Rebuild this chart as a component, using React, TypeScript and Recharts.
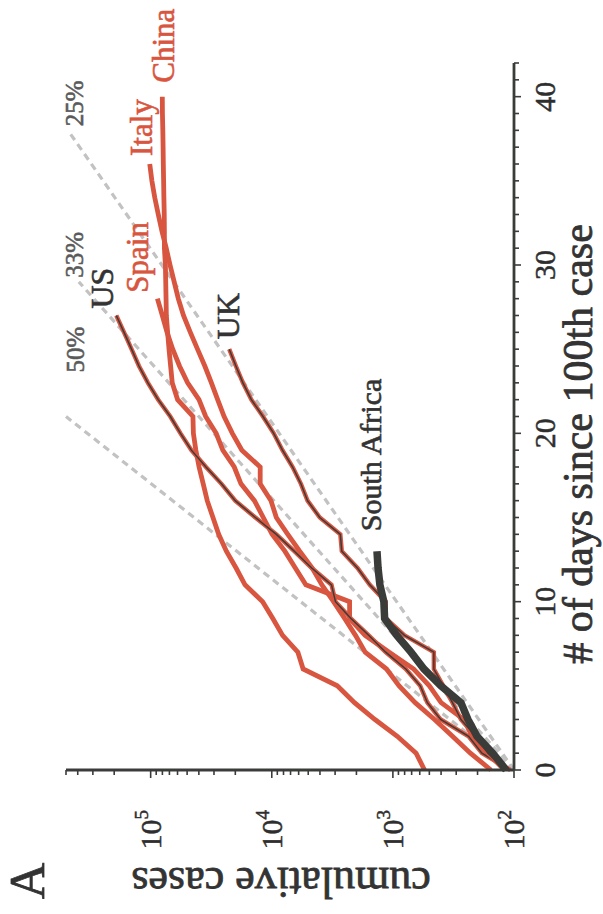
import React from "react";
import { LineChart, Line, XAxis, YAxis } from "recharts";

// Cumulative COVID-19 cases by day since the 100th case (panel A, printed rotated)

const RED = "#d8553f";
const DARK = "#3a3c3a";
const GREY = "#c2c2c2";
const FONT = "'Liberation Serif', 'Times New Roman', serif";

const china = [
  548, 643, 920, 1406, 2075, 2877, 5509, 6087, 8141, 9802, 11891, 16630, 19716, 23707,
  27440, 30587, 34110, 36814, 39829, 42354, 44386, 44759, 59895, 66358, 68413, 70513,
  72434, 74211, 74619, 75077, 75550, 77001, 77022, 77241, 77754, 78166, 78600, 78928,
  79356, 79932, 80136,
];
const italy = [
  155, 229, 322, 453, 655, 888, 1128, 1694, 2036, 2502, 3089, 3858, 4636, 5883, 7375,
  9172, 10149, 12462, 12462, 17660, 21157, 24747, 27980, 31506, 35713, 41035, 47021,
  53578, 59138, 63927, 69176, 74386, 80589, 86498, 92472, 97689, 101739,
];
const spain = [
  120, 165, 222, 259, 400, 500, 673, 1073, 1695, 2277, 2277, 5232, 6391, 7798, 9942,
  11748, 13910, 17963, 20410, 25374, 28768, 35136, 39885, 49515, 57786, 65719, 73235,
  80110, 87956,
];
const us = [
  107, 184, 237, 403, 519, 594, 782, 1147, 1586, 2219, 2978, 3212, 4679, 6512, 9169,
  13663, 20030, 26025, 34944, 46096, 56714, 68841, 86612, 105293, 124900, 143779,
  165861, 192177,
];
const uk = [
  116, 164, 207, 274, 322, 384, 459, 459, 802, 1144, 1145, 1551, 1960, 2642, 2716, 4014,
  5067, 5745, 6726, 8164, 9640, 11812, 14745, 17312, 19780, 22453,
];
const southAfrica = [116, 150, 202, 240, 274, 402, 554, 709, 927, 1170, 1187, 1280, 1326, 1353];

// daily growth reference lines (start and end points)
const ref50Days = [0, 21];
const ref50Cases = [100, 500000];
const ref33Days = [0, 29];
const ref33Cases = [100, 392000];
const ref25Days = [0, 38];
const ref25Cases = [100, 481800];

const dayTicks = Array.from({ length: 43 }, (_, i) => i);
const decades = [100, 1000, 10000, 100000];
const caseTicks = decades
  .flatMap((d) => [1, 2, 3, 4, 5, 6, 7, 8, 9].map((m) => m * d))
  .filter((v) => v <= 500000);

const toPoints = (arr: number[]) => arr.map((cases, day) => ({ day, cases }));
const refPoints = (days: number[], cases: number[]) =>
  days.map((day, i) => ({ day, cases: cases[i] }));

const heavy = (color: string, w = 0.6) => ({ fill: color, stroke: color, strokeWidth: w });

const DayTick = (props: any) => {
  const { x, y, payload } = props;
  const major = payload.value % 10 === 0;
  return (
    <g>
      <line x1={x} x2={x} y1={y} y2={y + (major ? 7 : 5)} stroke={DARK} strokeWidth={1.6} />
      {major && (
        <text
          x={x}
          y={y + 30}
          textAnchor="middle"
          dominantBaseline="central"
          fontSize={30}
          fontFamily={FONT}
          {...heavy("#2e2e2e", 0.5)}
        >
          {payload.value}
        </text>
      )}
    </g>
  );
};

const CaseTick = (props: any) => {
  const { x, y, payload } = props;
  const exp = Math.log10(payload.value);
  const major = Math.abs(exp - Math.round(exp)) < 1e-9;
  return (
    <g>
      <line x1={x} x2={x - (major ? 8 : 5)} y1={y} y2={y} stroke={DARK} strokeWidth={1.6} />
      {major && (
        <text
          x={x - 40}
          y={y + 10}
          textAnchor="end"
          fontSize={30}
          fontFamily={FONT}
          {...heavy("#2e2e2e", 0.5)}
        >
          <tspan>10</tspan>
          <tspan fontSize={19} dy={-13}>
            {Math.round(exp)}
          </tspan>
        </text>
      )}
    </g>
  );
};

function endLabel(
  text: string,
  count: number,
  dx: number,
  dy: number,
  color: string,
  size: number,
  anchor: string = "start"
) {
  return (p: any) => {
    const key = `${text}-${p.index}`;
    if (p.index !== count - 1) return <g key={key} />;
    return (
      <text
        key={key}
        x={p.cx + dx}
        y={p.cy + dy}
        fontSize={size}
        fontFamily={FONT}
        textAnchor={anchor}
        dominantBaseline={anchor === "middle" ? "central" : "auto"}
        {...heavy(color, 0.6)}
      >
        {text}
      </text>
    );
  };
}

export default function App() {
  return (
    <div
      style={{
        position: "absolute",
        left: 0,
        top: 0,
        width: 603,
        height: 914,
        overflow: "hidden",
        background: "#fff",
      }}
    >
      <div
        style={{
          position: "absolute",
          left: 0,
          top: 0,
          width: 914,
          height: 603,
          transformOrigin: "0 0",
          transform: "translate(0px, 914px) rotate(-90deg)",
        }}
      >
        <LineChart width={914} height={603} margin={{ top: 66, right: 63, bottom: 49, left: 84 }}>
          <XAxis
            dataKey="day"
            type="number"
            domain={[0, 42]}
            ticks={dayTicks}
            interval={0}
            tick={<DayTick />}
            tickLine={false}
            tickSize={0}
            tickMargin={0}
            height={40}
            axisLine={{ stroke: DARK, strokeWidth: 2.8 }}
          />
          <YAxis
            dataKey="cases"
            type="number"
            scale="log"
            domain={[100, 500000]}
            ticks={caseTicks}
            interval={0}
            tick={<CaseTick />}
            tickLine={false}
            tickSize={0}
            tickMargin={0}
            width={60}
            axisLine={{ stroke: DARK, strokeWidth: 2.8 }}
          />

          <Line
            data={refPoints(ref50Days, ref50Cases)}
            dataKey="cases"
            stroke={GREY}
            strokeWidth={3.2}
            strokeDasharray="7 5"
            dot={endLabel("50%", 2, 67, 9, "#5a5a5a", 25, "middle")}
            isAnimationActive={false}
          />
          <Line
            data={refPoints(ref33Days, ref33Cases)}
            dataKey="cases"
            stroke={GREY}
            strokeWidth={3.2}
            strokeDasharray="7 5"
            dot={endLabel("33%", 2, 27, -4, "#5a5a5a", 25, "middle")}
            isAnimationActive={false}
          />
          <Line
            data={refPoints(ref25Days, ref25Cases)}
            dataKey="cases"
            stroke={GREY}
            strokeWidth={3.2}
            strokeDasharray="7 5"
            dot={endLabel("25%", 2, 27, 7, "#5a5a5a", 25, "middle")}
            isAnimationActive={false}
          />

          <Line
            data={toPoints(china)}
            dataKey="cases"
            stroke={RED}
            strokeWidth={4.8}
            dot={endLabel("China", china.length, 14, 12, RED, 31)}
            isAnimationActive={false}
          />
          <Line
            data={toPoints(italy)}
            dataKey="cases"
            stroke={RED}
            strokeWidth={4.8}
            dot={endLabel("Italy", italy.length, 8, 2, RED, 31)}
            isAnimationActive={false}
          />
          <Line
            data={toPoints(spain)}
            dataKey="cases"
            stroke={RED}
            strokeWidth={4.8}
            dot={endLabel("Spain", spain.length, 6, -9, RED, 31)}
            isAnimationActive={false}
          />
          <Line
            data={toPoints(us)}
            dataKey="cases"
            stroke={RED}
            strokeWidth={4.4}
            dot={false}
            isAnimationActive={false}
          />
          <Line
            data={toPoints(us)}
            dataKey="cases"
            stroke={DARK}
            strokeWidth={1.5}
            dot={endLabel("US", us.length, 7, -3, "#333", 32)}
            isAnimationActive={false}
          />
          <Line
            data={toPoints(uk)}
            dataKey="cases"
            stroke={RED}
            strokeWidth={4.4}
            dot={false}
            isAnimationActive={false}
          />
          <Line
            data={toPoints(uk)}
            dataKey="cases"
            stroke={DARK}
            strokeWidth={1.5}
            dot={endLabel("UK", uk.length, 10, 10, "#333", 32)}
            isAnimationActive={false}
          />
          <Line
            data={toPoints(southAfrica)}
            dataKey="cases"
            stroke={DARK}
            strokeWidth={7.5}
            dot={endLabel("South Africa", southAfrica.length, 20, 4, "#333", 30)}
            isAnimationActive={false}
          />
        </LineChart>

        <svg
          width={914}
          height={603}
          style={{ position: "absolute", left: 0, top: 0, pointerEvents: "none" }}
        >
          <text
            x={33}
            y={27}
            textAnchor="middle"
            dominantBaseline="central"
            fontSize={50}
            fontFamily={FONT}
            {...heavy("#333", 0.8)}
          >
            A
          </text>
          <text
            x={0}
            y={0}
            transform="translate(32 281) rotate(-90)"
            textAnchor="middle"
            dominantBaseline="central"
            fontSize={44}
            fontFamily={FONT}
            {...heavy("#333", 0.8)}
          >
            cumulative cases
          </text>
          <text x={470} y={592} textAnchor="middle" fontSize={42} fontFamily={FONT} {...heavy("#333", 0.8)}>
            # of days since 100th case
          </text>
        </svg>
      </div>
    </div>
  );
}
